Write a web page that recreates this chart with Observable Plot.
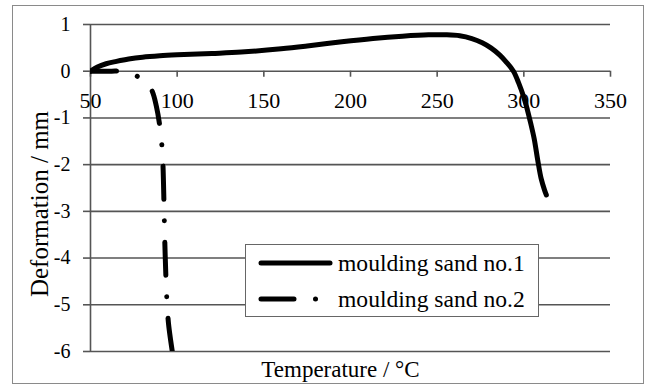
<!DOCTYPE html>
<html><head><meta charset="utf-8">
<script src="https://cdn.jsdelivr.net/npm/d3@7"></script>
<script src="https://cdn.jsdelivr.net/npm/@observablehq/plot@0.6"></script>
<style>
body{margin:0;background:#fff;}
#wrap{position:relative;width:646px;height:385px;font-family:"Liberation Serif","Times New Roman",serif;overflow:hidden;}
#wrap svg.chart{position:absolute;left:0;top:0;}
#wrap svg text{font-family:"Liberation Serif","Times New Roman",serif;}
#border{position:absolute;left:12px;top:5px;width:632px;height:379px;border:1.5px solid #8a8a8a;box-sizing:border-box;pointer-events:none;}
#legend{position:absolute;left:245px;top:244px;width:294px;height:73px;background:#fff;border:1.5px solid #666;box-sizing:border-box;}
</style>
</head><body>
<div id="wrap"><div id="border"></div></div>
<script>
// ---- data ----
const tempTicks = [50, 100, 150, 200, 250, 300, 350];
const defTicks = [1, 0, -1, -2, -3, -4, -5, -6];
const defTickLabels = ["1", "0", "-1", "-2", "-3", "-4", "-5", "-6"];
const seriesNames = ["moulding sand no.1", "moulding sand no.2"];
const xTitle = "Temperature / °C";
const yTitle = "Deformation / mm";

const sand1Temp = [50, 54, 59, 65, 72, 80, 90, 100, 120, 137, 160, 175, 195, 213, 230, 245, 255, 263, 270, 276, 281, 286, 290, 294, 297, 300, 302, 304, 306, 308, 310, 312, 313];
const sand1Def  = [0, 0.09, 0.16, 0.21, 0.26, 0.3, 0.33, 0.35, 0.38, 0.41, 0.48, 0.54, 0.63, 0.7, 0.75, 0.78, 0.78, 0.76, 0.7, 0.61, 0.5, 0.35, 0.19, 0, -0.25, -0.56, -0.82, -1.12, -1.45, -1.9, -2.3, -2.55, -2.65];

const sand2Temp = [50, 60, 66, 72, 77, 82, 85.5, 88, 90, 91.2, 91.8, 92.4, 92.9, 93.6, 94.2, 95, 96.2, 97.4];
const sand2Def  = [0, 0, 0, -0.04, -0.11, -0.24, -0.42, -0.75, -1.18, -1.6, -2.0, -2.85, -3.7, -4.5, -5.0, -5.4, -5.75, -6.05];

// ---- tables built from the arrays ----
const sand1 = sand1Temp.map((t, i) => ({t, d: sand1Def[i]}));
const sand2 = sand2Temp.map((t, i) => ({t, d: sand2Def[i]}));
const labelMap = new Map(defTicks.map((d, i) => [d, defTickLabels[i]]));

const gridColor = "#555";
const dashPattern = "33,21.5,0.01,21.5";
const serif = "'Liberation Serif','Times New Roman',serif";

const chart = Plot.plot({
  width: 646,
  height: 385,
  marginLeft: 90,
  marginRight: 36,
  marginTop: 24,
  marginBottom: 34,
  x: {domain: [50, 350], axis: null},
  y: {domain: [-6, 1], axis: null},
  style: {fontFamily: serif, background: "transparent", color: "black", overflow: "visible"},
  marks: [
    Plot.gridY(defTicks, {stroke: gridColor, strokeOpacity: 1, strokeWidth: 1.6}),
    Plot.axisY(defTicks, {tickSize: 7, tickPadding: 13, stroke: gridColor, strokeWidth: 1.6, fontSize: 20, tickFormat: d => labelMap.get(d), label: null}),
    Plot.ruleX([50], {stroke: gridColor, strokeWidth: 1.6}),
    Plot.ruleX(tempTicks, {x: d => d, y1: 0, y2: 0, insetBottom: -6, stroke: gridColor, strokeWidth: 1.6}),
    Plot.text(tempTicks, {x: d => d, y: 0, dy: 30, text: d => String(d), fontSize: 22, fill: "black"}),
    Plot.line(sand1, {x: "t", y: "d", stroke: "black", strokeWidth: 5, curve: "catmull-rom", clip: true, strokeLinecap: "round"}),
    Plot.line(sand2, {x: "t", y: "d", stroke: "black", strokeWidth: 5, curve: "catmull-rom", clip: true, strokeLinecap: "round", strokeDasharray: dashPattern, strokeDashoffset: 7}),
    Plot.text([xTitle], {frameAnchor: "bottom", textAnchor: "middle", lineAnchor: "middle", dx: -10, dy: 18.5, fontSize: 23, fill: "black"}),
    Plot.text([yTitle], {frameAnchor: "left", textAnchor: "middle", lineAnchor: "middle", rotate: -90, dx: -51, dy: 16, fontSize: 25, fill: "black"})
  ]
});
chart.classList.add("chart");
const wrap = document.getElementById("wrap");
wrap.insertBefore(chart, wrap.firstChild);

// ---- legend ----
const legend = document.createElement("div");
legend.id = "legend";
const ns = "http://www.w3.org/2000/svg";
const lsvg = document.createElementNS(ns, "svg");
lsvg.setAttribute("width", 291);
lsvg.setAttribute("height", 70);
const rowY = [18, 54];
const dashes = [null, dashPattern];
seriesNames.forEach((name, i) => {
  const ln = document.createElementNS(ns, "line");
  ln.setAttribute("x1", 15); ln.setAttribute("x2", i === 0 ? 84 : 75);
  ln.setAttribute("y1", rowY[i]); ln.setAttribute("y2", rowY[i]);
  ln.setAttribute("stroke", "black"); ln.setAttribute("stroke-width", 5);
  ln.setAttribute("stroke-linecap", "round");
  if (dashes[i]) ln.setAttribute("stroke-dasharray", dashes[i]);
  lsvg.appendChild(ln);
  const tx = document.createElementNS(ns, "text");
  tx.setAttribute("x", 92); tx.setAttribute("y", rowY[i]);
  tx.setAttribute("dy", "0.32em");
  tx.setAttribute("font-size", 23.6);
  tx.setAttribute("font-family", serif);
  tx.textContent = name;
  lsvg.appendChild(tx);
});
legend.appendChild(lsvg);
wrap.appendChild(legend);
</script>
</body></html>
